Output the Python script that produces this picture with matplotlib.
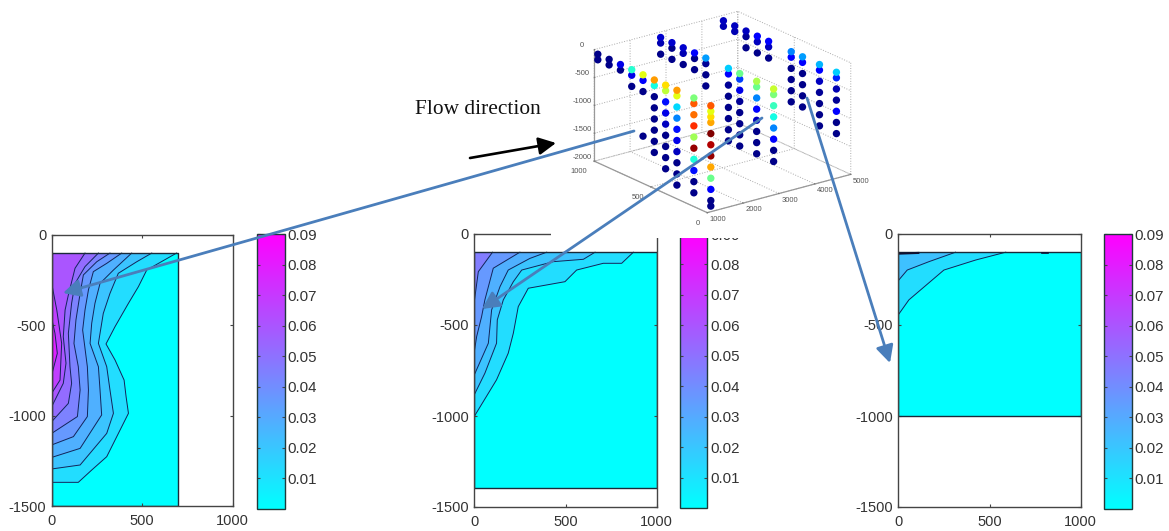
import matplotlib
matplotlib.use("Agg")
import matplotlib.pyplot as plt
from matplotlib.colors import Normalize
from matplotlib.cm import ScalarMappable
from matplotlib.patches import FancyArrowPatch, Rectangle
from mpl_toolkits.mplot3d import Axes3D  # noqa

plt.rcParams['font.family'] = ['Liberation Sans', 'DejaVu Sans']
plt.rcParams['axes.unicode_minus'] = False

W, H = 1169, 531
TEXT = '#333333'
SPINE = '#444444'
LINE = '#12245a'
BLUE = '#4a7ebb'

# ---------- contour data (x, depth) ----------
tick_x = [0, 500, 1000]
tick_y = [0, -500, -1000, -1500]
cbar_ticks = [0.01, 0.02, 0.03, 0.04, 0.05, 0.06, 0.07, 0.08, 0.09]

p1_domain_x = [0, 700, 700, 0]
p1_domain_y = [-100, -100, -1500, -1500]
p1_levels = [0.012, 0.021, 0.028, 0.036, 0.044, 0.052, 0.060, 0.068, 0.078]
p1_contours = [
    [(690,-100),(525,-194),(479,-286),(424,-378),(350,-507),(300,-603),(350,-692),(400,-803),(411,-895),(424,-987),(378,-1079),(304,-1227),(221,-1301),(147,-1369),(0,-1369)],
    [(553,-100),(470,-148),(368,-212),(322,-323),(285,-434),(258,-600),(304,-729),(322,-858),(341,-987),(304,-1098),(157,-1273),(0,-1295)],
    [(442,-100),(341,-194),(267,-268),(239,-378),(221,-489),(212,-600),(258,-729),(267,-858),(276,-996),(157,-1181),(0,-1231)],
    [(387,-100),(304,-157),(230,-203),(203,-304),(184,-415),(171,-526),(197,-729),(203,-858),(197,-1005),(120,-1116),(0,-1162)],
    [(322,-100),(249,-148),(175,-221),(157,-323),(134,-470),(123,-600),(147,-729),(157,-858),(142,-1005),(0,-1098)],
    [(258,-100),(184,-175),(129,-268),(110,-378),(92,-544),(101,-729),(110,-821),(92,-932),(0,-1033)],
    [(184,-100),(129,-184),(92,-332),(74,-415),(64,-563),(79,-710),(64,-821),(0,-950)],
    [(0,-268),(28,-415),(55,-600),(46,-803),(0,-876)],
    [(0,-461),(18,-544),(31,-655),(0,-775)],
]

p2_domain_x = [0, 1000, 1000, 0]
p2_domain_y = [-100, -100, -1395, -1395]
p2_levels = [0.012, 0.021, 0.028, 0.036, 0.046]
p2_contours = [
    [(872,-100),(808,-161),(707,-161),(561,-198),(497,-262),(296,-298),(241,-399),(214,-545),(186,-655),(122,-801),(0,-1002)],
    [(662,-100),(598,-139),(433,-152),(260,-198),(214,-262),(159,-362),(126,-472),(122,-600),(58,-765),(0,-883)],
    [(397,-100),(305,-134),(186,-198),(141,-289),(95,-417),(77,-600),(0,-774)],
    [(250,-100),(104,-188),(58,-362),(40,-454),(13,-563),(0,-646)],
    [(100,-100),(22,-207),(0,-371)],
]

p3_domain_x = [0, 1000, 1000, 0]
p3_domain_y = [-100, -100, -1000, -1000]
p3_levels = [0.012, 0.022]
p3_contours = [
    [(589,-100),(424,-143),(250,-198),(58,-362),(0,-444)],
    [(314,-100),(168,-152),(49,-198),(0,-256)],
]
p3_mark_a_x = [0, 110]
p3_mark_a_y = [-108, -104]
p3_mark_b_x = [790, 820]
p3_mark_b_y = [-104, -104]

# ---------- 3-D scatter data ----------
sec1_x = 1100
sec2_x = 2850
sec3_x = 4600

sec1_y = [1000, 900, 800, 700, 600, 500, 400, 300, 150, 0]
sec1_z = [
    [-100,-200],
    [-100,-200],
    [-100,-200],
    [-100,-200,-400],
    [-100,-200,-400,-1200],
    [-100,-200,-400,-600,-800,-1000,-1200,-1400],
    [-100,-200,-400,-600,-800,-1000,-1200,-1400,-1600],
    [-100,-200,-400,-600,-800,-1000,-1200,-1400,-1600,-1800],
    [-100,-200,-400,-600,-800,-1000,-1200,-1400,-1600,-1800],
    [-100,-200,-300,-400,-600,-800,-1000,-1200,-1400,-1600,-1800,-1900],
]
sec1_v = [
    [.005,.005],
    [.005,.005],
    [.012,.005],
    [.038,.012,.005],
    [.058,.014,.005,.005],
    [.068,.036,.005,.005,.005,.005,.005,.005],
    [.062,.054,.016,.012,.009,.005,.005,.005,.005],
    [.068,.058,.033,.026,.016,.012,.009,.005,.005,.005],
    [.047,.074,.072,.078,.051,.088,.037,.016,.005,.005],
    [.074,.058,.062,.067,.090,.086,.088,.067,.045,.014,.005,.005],
]

sec2_y = [1000, 900, 800, 700, 600, 400, 300, 150, 0]
sec2_z = [
    [-100,-200,-400],
    [-100,-200,-400],
    [-100,-200,-400],
    [-100,-200,-400],
    [-100,-200,-400,-600],
    [-100,-200,-400,-600,-800,-1000,-1200,-1400],
    [-100,-200,-400,-600,-800,-1000,-1200,-1400],
    [-100,-200,-400,-600,-800,-1000,-1200,-1400],
    [-100,-200,-400,-600,-800,-1000,-1200,-1400],
]
sec2_v = [
    [.010,.008,.005],
    [.010,.005,.005],
    [.010,.008,.005],
    [.014,.005,.005],
    [.028,.006,.005,.005],
    [.032,.014,.006,.005,.005,.005,.005,.005],
    [.045,.020,.012,.006,.005,.005,.005,.005],
    [.052,.045,.026,.014,.009,.005,.005,.005],
    [.055,.047,.040,.036,.026,.014,.005,.005],
]

sec3_y = [1000, 900, 800, 700, 600, 400, 300, 150, 0]
sec3_z = [
    [-100,-200],
    [-100,-200],
    [-100,-200,-400],
    [-100,-200,-400],
    [-100,-200,-400],
    [-100,-200,-400,-600,-800,-1000],
    [-100,-200,-400,-600,-800,-1000],
    [-100,-200,-400,-600,-800,-1000,-1200],
    [-100,-200,-400,-600,-800,-1000,-1200],
]
sec3_v = [
    [.009,.008],
    [.009,.008],
    [.009,.006,.005],
    [.014,.009,.005],
    [.014,.009,.005],
    [.026,.014,.005,.005,.005,.005],
    [.028,.014,.005,.005,.005,.005],
    [.030,.014,.009,.006,.005,.005,.005],
    [.032,.018,.008,.006,.014,.005,.005],
]


def rect(x0, y0, x1, y1):
    return [x0 / W, 1 - y1 / H, (x1 - x0) / W, (y1 - y0) / H]


def pt(x, y):
    return (x / W, 1 - y / H)


fig = plt.figure(figsize=(W / 100, H / 100), dpi=100, facecolor='white')
norm = Normalize(0, 0.09)
cool = plt.get_cmap('cool')


def contour_panel(box, cbox, dx, dy, contours, levels):
    ax = fig.add_axes(rect(*box), zorder=1)
    ax.fill(dx, dy, facecolor=cool(0.0), edgecolor='none')
    for c, lev in zip(contours, levels):
        xs = [p[0] for p in c]
        ys = [p[1] for p in c]
        if xs[0] != 0:
            fx, fy = xs + [0], ys + [-100]
        else:
            fx, fy = xs, ys
        ax.fill(fx, fy, facecolor=cool(norm(lev)), edgecolor='none')
        ax.plot(xs, ys, color=LINE, lw=0.7)
    ax.plot(dx + dx[:1], dy + dy[:1], color='#1a2a3a', lw=1.0)
    ax.set_xlim(0, 1000)
    ax.set_ylim(-1500, 0)
    ax.set_xticks(tick_x)
    ax.set_yticks(tick_y)
    ax.tick_params(direction='in', top=True, right=True, length=2, width=0.8,
                   color=SPINE, labelcolor=TEXT, labelsize=10.5, pad=4)
    ax.tick_params(axis='x', pad=6)
    for s in ax.spines.values():
        s.set_color(SPINE)
        s.set_linewidth(1.0)
    cax = fig.add_axes(rect(*cbox), zorder=1)
    cb = fig.colorbar(ScalarMappable(norm, cool), cax=cax)
    cb.set_ticks(cbar_ticks)
    cb.set_ticklabels(['%.2f' % t for t in cbar_ticks])
    cax.tick_params(direction='in', left=True, right=True, length=2, width=0.8,
                    color=SPINE, labelcolor=TEXT, labelsize=10.8, pad=2)
    cb.outline.set_edgecolor('#1f3a3a')
    cb.outline.set_linewidth(1.0)
    return ax


contour_panel((51.7, 235, 232.7, 506), (257.3, 234, 284.7, 509),
              p1_domain_x, p1_domain_y, p1_contours, p1_levels)
contour_panel((474.3, 234, 656.7, 507), (680.3, 234, 707.3, 508),
              p2_domain_x, p2_domain_y, p2_contours, p2_levels)
ax3p = contour_panel((898.3, 234, 1080.7, 507), (1104.3, 234, 1131.7, 509),
                     p3_domain_x, p3_domain_y, p3_contours, p3_levels)
ax3p.plot(p3_mark_a_x, p3_mark_a_y, color='#101030', lw=1.5)
ax3p.plot(p3_mark_b_x, p3_mark_b_y, color='#101030', lw=1.2)

# white patch of the pasted 3-D picture, over the middle panel's top
x0, y0 = pt(551, 238)
fig.add_artist(Rectangle((x0, y0), 310 / W, 238 / H, transform=fig.transFigure,
                         facecolor='white', edgecolor='none', zorder=2))

# ---------- 3-D scatter ----------
S = 277
cx, cy = 722.5, 112
left = cx - 0.5135 * S
bottom = cy + 0.5135 * S
ax3 = fig.add_axes(rect(left, bottom - S, left + S, bottom), projection='3d',
                   proj_type='ortho', zorder=3)
ax3.patch.set_alpha(0)
ax3.view_init(elev=20.4, azim=-127.4)
ax3.set_box_aspect((542, 558, 357))
ax3.set_xlim(1000, 5000, view_margin=0)
ax3.set_ylim(0, 1000, view_margin=0)
ax3.set_zlim(-2000, 0, view_margin=0)
ax3.set_xticks([1000, 2000, 3000, 4000, 5000])
ax3.set_yticks([0, 500, 1000])
ax3.set_zticks([-2000, -1500, -1000, -500, 0])
for axis in (ax3.xaxis, ax3.yaxis, ax3.zaxis):
    axis.set_pane_color((1, 1, 1, 0))
    axis.pane.set_edgecolor('none')
    axis.line.set_color('#999999')
    axis.line.set_linewidth(0.9)
    axis._axinfo['grid'].update(color='#aaaaaa', linestyle=':', linewidth=0.7)
    axis._axinfo['tick'].update(inward_factor=0.0, outward_factor=0.05)
ax3.tick_params(labelsize=5.5, labelcolor='#555555', color='#777777', pad=-3, width=0.5)
ax3.tick_params(axis='x', pad=-6)
ax3.tick_params(axis='y', pad=-3)
for lab in ax3.get_xticklabels():
    lab.set_ha('left')
for lab in ax3.get_yticklabels():
    lab.set_ha('right')
for lab in ax3.get_zticklabels():
    lab.set_va('bottom')
jet = plt.get_cmap('jet')
jet_norm = Normalize(0.004, 0.09)
for sx, ys, zs, vs in ((sec1_x, sec1_y, sec1_z, sec1_v),
                       (sec2_x, sec2_y, sec2_z, sec2_v),
                       (sec3_x, sec3_y, sec3_z, sec3_v)):
    for y, zc, vc in zip(ys, zs, vs):
        ax3.scatter([sx] * len(zc), [y] * len(zc), zc, c=vc, cmap=jet, norm=jet_norm,
                    s=28, depthshade=False, linewidths=0)

# ---------- annotations ----------
fig.text(415 / W, 1 - 110 / H, 'Flow direction', family=['Liberation Serif'],
         fontsize=15.4, color='#111111', va='center', ha='left', zorder=6)


def arrow(a, b, color, lw):
    fig.add_artist(FancyArrowPatch(pt(*a), pt(*b), transform=fig.transFigure,
                                   arrowstyle='-|>,head_length=0.65,head_width=0.33',
                                   mutation_scale=16,
                                   shrinkA=0, shrinkB=0, color=color, lw=lw, zorder=7))


arrow((470, 158), (556, 143), '#000000', 1.9)
arrow((634, 131), (63, 293), BLUE, 2.0)
arrow((762, 118), (482, 309), BLUE, 2.0)
arrow((807, 98), (890, 363), BLUE, 2.0)

fig.savefig('out.png', dpi=100)
